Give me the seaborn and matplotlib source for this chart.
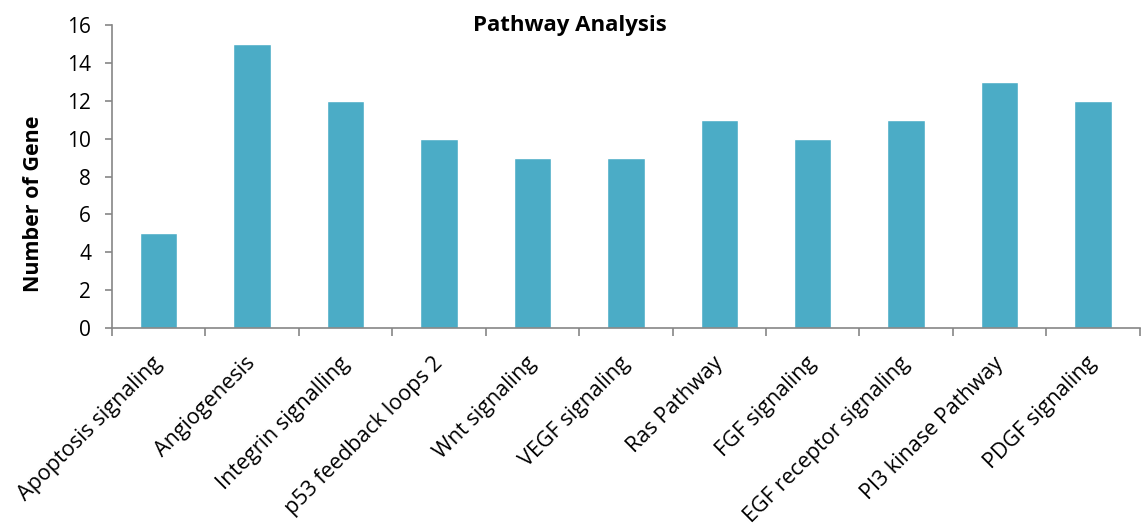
"""Pathway analysis bar chart."""

import matplotlib
matplotlib.use("Agg")
import matplotlib.pyplot as plt
import matplotlib.transforms as mtransforms
import numpy as np
import pandas as pd
import seaborn as sns
from matplotlib.ticker import FixedLocator

pathways = [
    "Apoptosis signaling",
    "Angiogenesis",
    "Integrin signalling",
    "p53 feedback loops 2",
    "Wnt signaling",
    "VEGF signaling",
    "Ras Pathway",
    "FGF signaling",
    "EGF receptor signaling",
    "PI3 kinase Pathway",
    "PDGF signaling",
]
gene_counts = [5, 15, 12, 10, 9, 9, 11, 10, 11, 13, 12]
y_ticks = [0, 2, 4, 6, 8, 10, 12, 14, 16]

BAR_COLOR = "#4BACC6"
AXIS_COLOR = "#868686"


def main() -> None:
    sns.set_style("white")
    plt.rcParams["font.family"] = ["Open Sans", "DejaVu Sans"]
    plt.rcParams["text.color"] = "black"
    plt.rcParams["axes.labelcolor"] = "black"
    plt.rcParams["xtick.labelcolor"] = "black"
    plt.rcParams["ytick.labelcolor"] = "black"

    df = pd.DataFrame({"pathway": pathways, "genes": gene_counts})

    fig = plt.figure(figsize=(11.42, 5.29), dpi=100)
    ax = fig.add_axes([0.098, 0.38, 0.900, 0.5727])
    sns.barplot(data=df, x="pathway", y="genes", color=BAR_COLOR, width=0.4,
                saturation=1, ax=ax)

    ax.set_xlim(-0.5, len(pathways) - 0.5)
    ax.set_ylim(0, 16)
    ax.set_yticks(y_ticks)
    ax.tick_params(axis="y", labelsize=15, length=5, color=AXIS_COLOR,
                   labelcolor="black", direction="out", width=1.2, pad=10,
                   left=True)

    ax.set_xticks(range(len(pathways)))
    ax.set_xticklabels(pathways, rotation=45, ha="right", rotation_mode="anchor",
                       fontsize=15.5)
    ax.tick_params(axis="x", which="major", length=0, pad=14, labelcolor="black")
    ax.xaxis.set_minor_locator(FixedLocator(np.arange(-0.5, len(pathways), 1.0)))
    ax.tick_params(axis="x", which="minor", length=6, color=AXIS_COLOR,
                   width=1.2, direction="out", bottom=True)
    shift = mtransforms.ScaledTranslation(-5 / 72, -4 / 72, fig.dpi_scale_trans)
    for label in ax.get_xticklabels():
        label.set_transform(label.get_transform() + shift)

    for side in ["top", "right"]:
        ax.spines[side].set_visible(False)
    for side in ["left", "bottom"]:
        ax.spines[side].set_color(AXIS_COLOR)
        ax.spines[side].set_linewidth(1.2)

    ax.set_xlabel("")
    ax.set_ylabel("Number of Gene", fontsize=15.5, fontweight="bold", color="black")
    ax.yaxis.set_label_coords(-0.066, 0.41)
    ax.text(0.446, 1.0, "Pathway Analysis", transform=ax.transAxes, ha="center",
            va="center", fontsize=16, fontweight="bold", color="black")

    fig.savefig("out.png", dpi=100)
    plt.close("all")


if __name__ == "__main__":
    main()
